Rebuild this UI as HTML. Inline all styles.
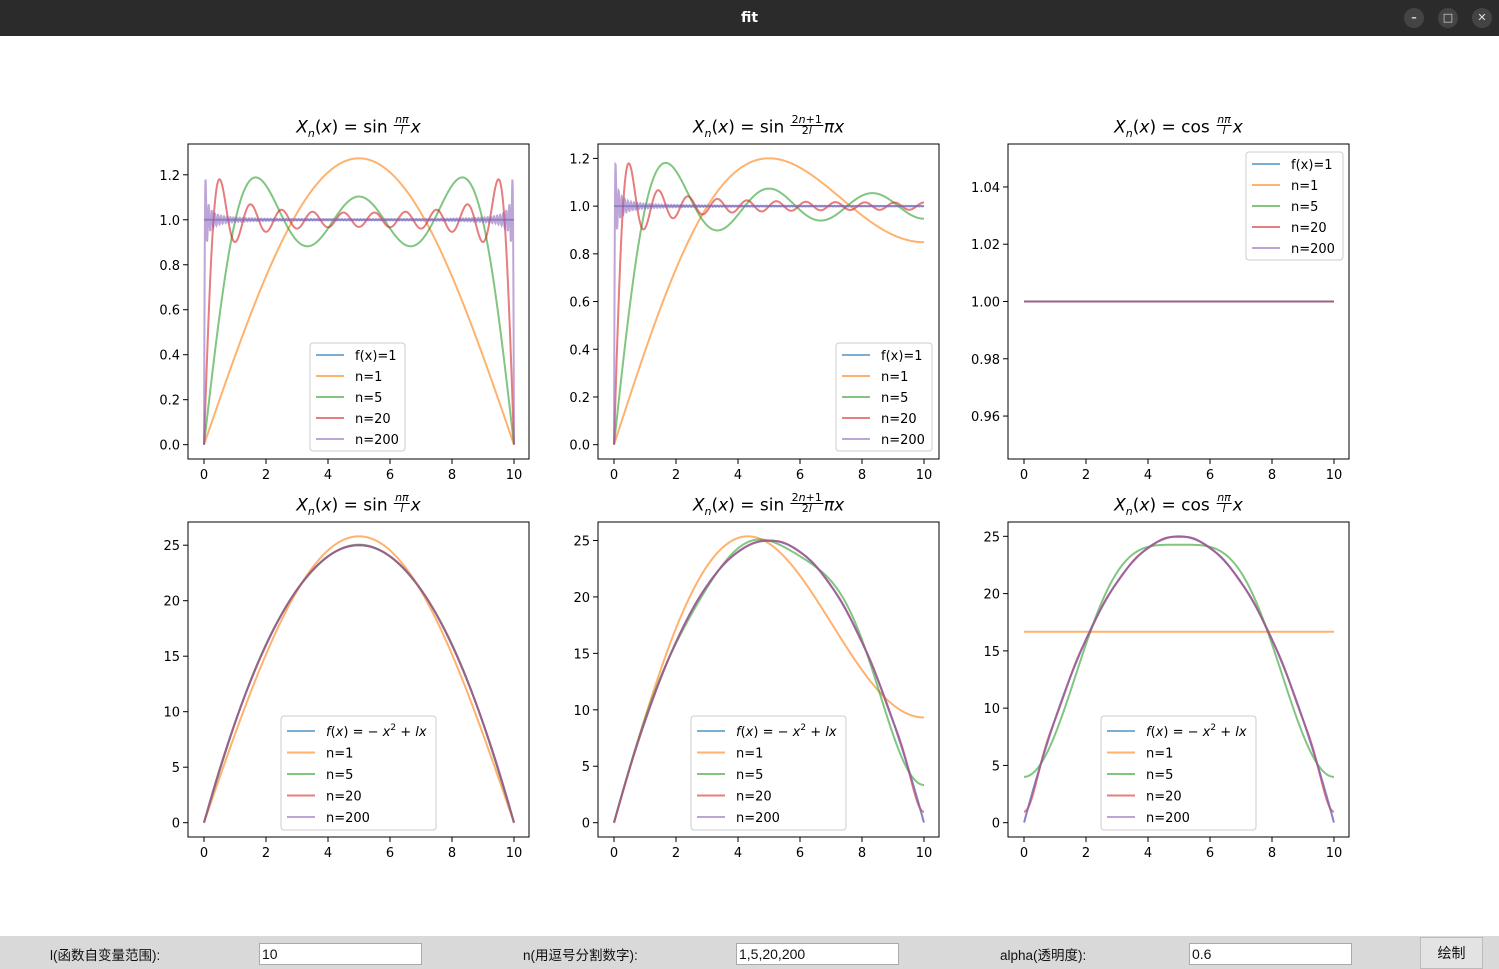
<!DOCTYPE html>
<html><head><meta charset="utf-8"><style>
body{margin:0;width:1499px;height:969px;overflow:hidden;background:#fff;font-family:"DejaVu Sans","Liberation Sans",sans-serif;position:relative}
#titlebar{position:absolute;left:0;top:0;width:1499px;height:36px;background:#2b2b2b;color:#fff;font:bold 14px "DejaVu Sans",sans-serif;text-align:center;line-height:36px}
.wbtn{position:absolute;top:8px;width:20px;height:20px;border-radius:10px;background:#444;color:#ddd;font-size:11px;line-height:20px;text-align:center}
#bar{position:absolute;left:0;top:936px;width:1499px;height:33px;background:#d9d9d9;font-family:"Liberation Sans","Noto Sans CJK SC",sans-serif;font-size:14px;color:#111}
.lbl{position:absolute;top:8px;font-size:13.5px}
.inp{position:absolute;top:7px;width:163px;height:22px;background:#fff;border:1px solid #aaa;font-size:14px;line-height:20px;padding-left:2px;box-sizing:border-box}
#btn{position:absolute;left:1420px;top:1px;width:63px;height:32px;background:#e3e3e3;border:1px solid #bbb;box-sizing:border-box;text-align:center;line-height:30px}
.ttl{position:absolute;font-size:17px;white-space:nowrap;transform:translateX(-50%);line-height:20px}
.ttl i{font-style:italic}
.fr{display:inline-block;vertical-align:middle;text-align:center;font-size:11px;line-height:10px;margin:0 1px;position:relative;top:-2px}
.fr span{display:block}
.fr .num{border-bottom:1px solid #000;padding:0 1px}
</style></head><body>
<div id="titlebar">fit
<div class="wbtn" style="left:1404px">–</div>
<div class="wbtn" style="left:1438px">□</div>
<div class="wbtn" style="left:1472px">✕</div>
</div>
<svg id="chart" width="1499" height="900" style="position:absolute;left:0;top:36px"></svg>
<div id="titles"></div>
<div id="bar">
<div class="lbl" style="left:50px">l(函数自变量范围):</div>
<div class="inp" style="left:259px">10</div>
<div class="lbl" style="left:523px">n(用逗号分割数字):</div>
<div class="inp" style="left:736px">1,5,20,200</div>
<div class="lbl" style="left:1000px">alpha(透明度):</div>
<div class="inp" style="left:1189px">0.6</div>
<div id="btn">绘制</div>
</div>
<script>
const L = 10;
const NS = [1, 5, 20, 200];
const ALPHA = 0.6;
const XTICKS = [0, 2, 4, 6, 8, 10];
const YTICKS_ROW1 = [0, 0.2, 0.4, 0.6, 0.8, 1.0, 1.2];
const YTICKS_CONST = [0.96, 0.98, 1.00, 1.02, 1.04];
const YTICKS_ROW2 = [0, 5, 10, 15, 20, 25];
const COLORS = ['#1f77b4', '#ff7f0e', '#2ca02c', '#d62728', '#9467bd'];

const OFF = 36;
const svg = document.getElementById('chart');
const NSVG = 'http://www.w3.org/2000/svg';
function mk(tag, attrs, parent) { const e = document.createElementNS(NSVG, tag); for (const k in attrs) e.setAttribute(k, attrs[k]); (parent || svg).appendChild(e); return e; }

const fA = x => 1;
const fB = x => -x * x + L * x;
const bases = {
  sin: { ks: n => { const a = []; for (let k = 1; k <= n; k++) a.push(k); return a; }, phi: (k, x) => Math.sin(k * Math.PI * x / L) },
  half: { ks: n => { const a = []; for (let k = 0; k <= n; k++) a.push(k); return a; }, phi: (k, x) => Math.sin((2 * k + 1) * Math.PI * x / (2 * L)) },
  cos: { ks: n => { const a = []; for (let k = 0; k <= n; k++) a.push(k); return a; }, phi: (k, x) => Math.cos(k * Math.PI * x / L) }
};
function coef(f, b, k) {
  const M = 4000, h = L / M; let s1 = 0, s2 = 0;
  for (let i = 0; i <= M; i++) { const x = i * h, w = (i === 0 || i === M) ? 1 : (i % 2 ? 4 : 2); const p = b.phi(k, x); s1 += w * f(x) * p; s2 += w * p * p; }
  return s1 / s2;
}
const NPTS = 1500;
const XS = []; for (let i = 0; i < NPTS; i++) XS.push(i * L / (NPTS - 1));

const plots = [
  { col: 0, row: 0, f: fA, b: 'sin', yt: YTICKS_ROW1, fmt: 1, leg: [310, 343, 95, 108], fl: 'f(x)=1', title: 'sin' },
  { col: 1, row: 0, f: fA, b: 'half', yt: YTICKS_ROW1, fmt: 1, leg: [836, 343, 96, 108], fl: 'f(x)=1', title: 'half' },
  { col: 2, row: 0, f: fA, b: 'cos', yt: YTICKS_CONST, fmt: 2, leg: [1246, 152, 97, 108], fl: 'f(x)=1', title: 'cos' },
  { col: 0, row: 1, f: fB, b: 'sin', yt: YTICKS_ROW2, fmt: 0, leg: [281, 716, 155, 114], fl: 'q', title: 'sin' },
  { col: 1, row: 1, f: fB, b: 'half', yt: YTICKS_ROW2, fmt: 0, leg: [691, 716, 155, 114], fl: 'q', title: 'half' },
  { col: 2, row: 1, f: fB, b: 'cos', yt: YTICKS_ROW2, fmt: 0, leg: [1101, 716, 155, 114], fl: 'q', title: 'cos' }
];
const COLX = [188, 598, 1008], ROWY = [144, 522], W = 341, H = 315;

plots.forEach((p, pi) => {
  const x0 = COLX[p.col], y0 = ROWY[p.row];
  const b = bases[p.b];
  const series = [XS.map(p.f)];
  NS.forEach(n => {
    const ks = b.ks(n), cs = ks.map(k => coef(p.f, b, k));
    series.push(XS.map(x => { let s = 0; for (let j = 0; j < ks.length; j++) s += cs[j] * b.phi(ks[j], x); return s; }));
  });
  let mn = Infinity, mx = -Infinity;
  series.forEach(s => s.forEach(v => { if (v < mn) mn = v; if (v > mx) mx = v; }));
  let ylo, yhi;
  if (mx - mn < 1e-6) { const c = (mx + mn) / 2; ylo = c - 0.055; yhi = c + 0.055; }
  else { const pd = (mx - mn) * 0.05; ylo = mn - pd; yhi = mx + pd; }
  const xlo = -L * 0.05, xhi = L * 1.05;
  const sx = x => x0 + 0.5 + (x - xlo) / (xhi - xlo) * W;
  const sy = y => (y0 - OFF) + (yhi - y) / (yhi - ylo) * H;
  const g = mk('g', {});
  
  
  const cp = mk('clipPath', { id: 'cp' + pi }, g);
  mk('rect', { x: x0, y: y0 - OFF, width: W, height: H }, cp);
  const lg = mk('g', { 'clip-path': 'url(#cp' + pi + ')' }, g);
  series.forEach((s, si) => {
    let d = '';
    s.forEach((v, i) => { d += (i ? 'L' : 'M') + sx(XS[i]).toFixed(2) + ' ' + sy(v).toFixed(2); });
    const pa = mk('path', { d: d, fill: 'none', stroke: COLORS[si], 'stroke-opacity': ALPHA, 'stroke-width': 2 }, lg);
    
    
  });
  mk('rect', { x: x0, y: y0 - OFF, width: W, height: H, fill: 'none', stroke: '#000', 'stroke-width': 1 }, g);
  XTICKS.forEach(t => {
    const X = sx(t);
    mk('line', { x1: X, x2: X, y1: y0 - OFF + H, y2: y0 - OFF + H + 5, stroke: '#000' }, g);
    const tx = mk('text', { x: X, y: y0 - OFF + H + 20, 'text-anchor': 'middle', 'font-size': 13 }, g);
    tx.textContent = t;
    
    
  });
  p.yt.forEach(t => {
    const Y = sy(t);
    mk('line', { x1: x0 - 5, x2: x0, y1: Y, y2: Y, stroke: '#000' }, g);
    const tx = mk('text', { x: x0 - 8, y: Y + 5, 'text-anchor': 'end', 'font-size': 13 }, g);
    tx.textContent = t.toFixed(p.fmt);
    
    
  });
  const [lx, ly, lw, lh] = p.leg;
  const lgG = mk('g', {}, g);
  
  
  mk('rect', { x: lx, y: ly - OFF, width: lw, height: lh, rx: 3, fill: '#fff', 'fill-opacity': 0.8, stroke: '#ccc' }, lgG);
  const labels = [p.fl].concat(NS.map(n => 'n=' + n));
  const step = p.fl === 'q' ? 21.5 : 21;
  labels.forEach((lab, i) => {
    const yy = ly - OFF + (p.fl === 'q' ? 15 : 12) + i * step;
    mk('line', { x1: lx + 6, x2: lx + 34, y1: yy, y2: yy, stroke: COLORS[i], 'stroke-opacity': ALPHA, 'stroke-width': 2 }, lgG);
    const tx = mk('text', { x: lx + 45, y: yy + 5, 'font-size': 13 }, lgG);
    if (lab === 'q') {
      tx.innerHTML = '<tspan font-style="italic">f</tspan>(<tspan font-style="italic">x</tspan>) = − <tspan font-style="italic">x</tspan><tspan dy="-6" font-size="9">2</tspan><tspan dy="6"> + </tspan><tspan font-style="italic">lx</tspan>';
    } else tx.textContent = lab;
    
    
  });
  const t = document.createElement('div');
  t.className = 'ttl';
  t.style.left = (x0 + W / 2) + 'px';
  t.style.top = (y0 - 27) + 'px';
  const fn = p.title === 'cos' ? 'cos' : 'sin';
  const frac = p.title === 'half' ? '<span class="fr"><span class="num">2<i>n</i>+1</span><span>2<i>l</i></span></span><i>πx</i>'
    : '<span class="fr"><span class="num"><i>nπ</i></span><span><i>l</i></span></span><i>x</i>';
  t.innerHTML = '<i>X</i><sub style="font-size:11px"><i>n</i></sub>(<i>x</i>) = ' + fn + ' ' + frac;
  
  
  document.getElementById('titles').appendChild(t);
});
</script>
</body></html>
